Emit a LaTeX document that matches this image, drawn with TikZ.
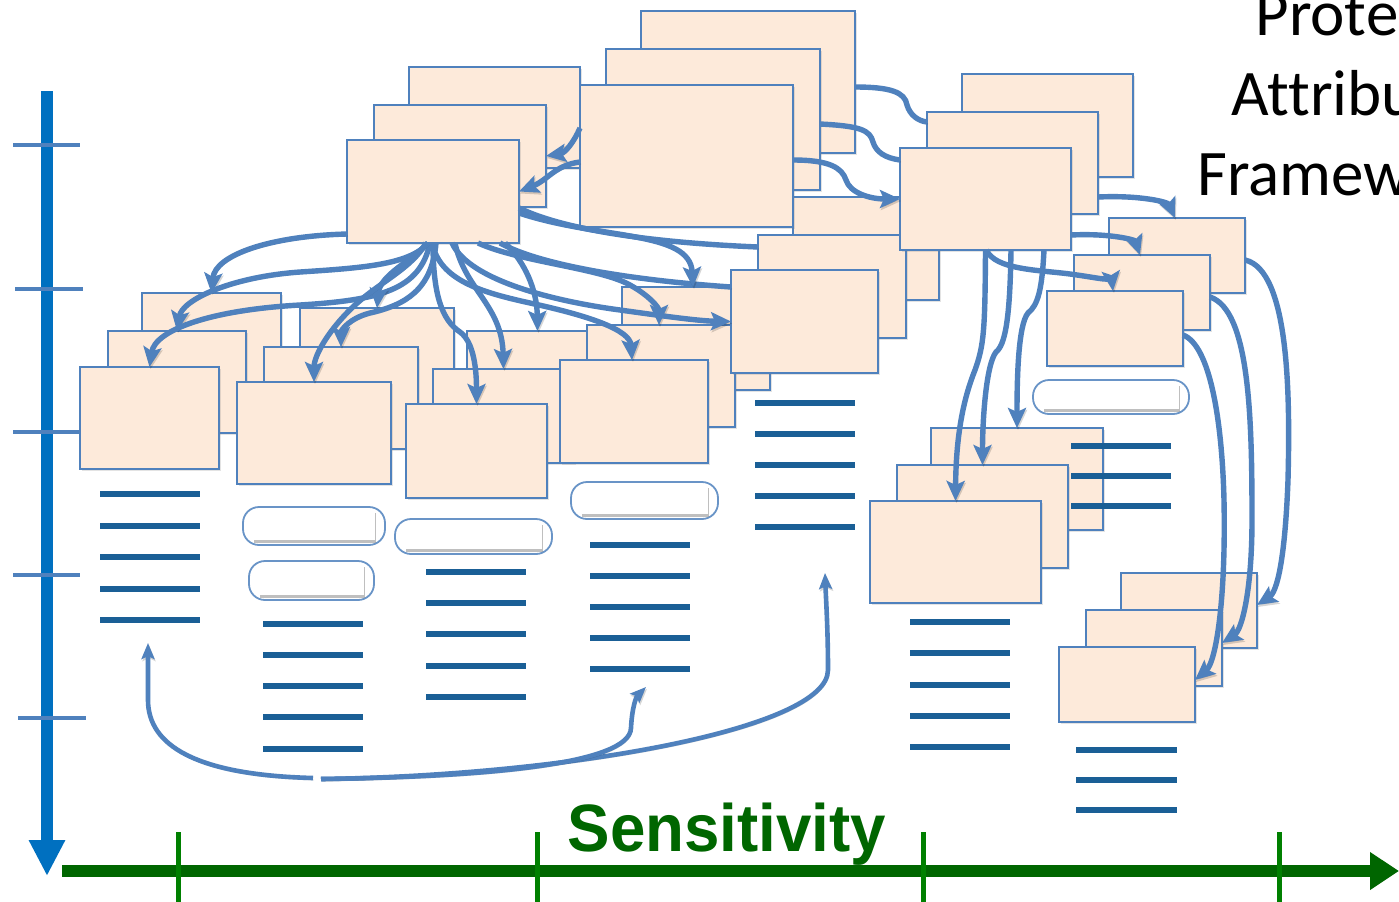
\documentclass[tikz,border=0pt]{standalone}
\usepackage{fontspec}
\usepackage{graphicx}
\usetikzlibrary{arrows.meta,calc,shadows}
\newfontfamily\axisfont{Liberation Sans}
\newfontfamily\headfont{Carlito}[Ligatures={NoCommon,NoRequired,NoContextual}]
\definecolor{cardfill}{HTML}{FDEADA}
\definecolor{cardline}{HTML}{4F81BD}
\definecolor{linkblue}{HTML}{4F81BD}
\definecolor{barblue}{HTML}{1A5F96}
\definecolor{vaxisblue}{HTML}{0070C0}
\definecolor{haxisgreen}{HTML}{006600}
\definecolor{htickgreen}{HTML}{008000}

\tikzset{
  card/.style={rectangle, draw=cardline, fill=cardfill, line width=1pt,
    inner sep=0pt, outer sep=0pt,
    drop shadow={shadow xshift=0.8pt, shadow yshift=-1.2pt, opacity=0.22}},
  linkshade/.style={preaction={draw=black, opacity=0.16,
    transform canvas={xshift=0.5pt, yshift=-1pt}}},
  link/.style={draw=linkblue, line width=2.7pt, linkshade,
    -{Stealth[length=10pt,width=9pt,inset=2pt]}},
  plainlink/.style={draw=linkblue, line width=2.7pt, linkshade},
  looplink/.style={draw=linkblue, line width=2.3pt, linkshade,
    -{Stealth[length=8pt,width=6.5pt,inset=1.5pt]}},
  bar/.style={draw=barblue, line width=3pt},
  pillbox/.style={rectangle, draw=cardline!85, line width=0.9pt, fill=white,
    rounded corners=8pt, inner sep=0pt, outer sep=0pt},
  vtick/.style={draw=linkblue, line width=2pt},
  htick/.style={draw=htickgreen, line width=2.5pt},
  headline/.style={anchor=base west, inner sep=0pt,
    font=\headfont\fontsize{32.5}{39}\selectfont},
}

% card: name, left, top, right, bottom (pixel grid, y downwards)
\newcommand\card[5]{\node[card, minimum width={(#4-#2)*0.5pt},
  minimum height={(#5-#3)*0.5pt}] (#1) at ({(#2+#4)/2},{(#3+#5)/2}) {};}
% pill: name, left, top, right, bottom
\newcommand\pill[5]{\node[pillbox, minimum width={(#4-#2)*0.5pt},
  minimum height={(#5-#3)*0.5pt}] (#1) at ({(#2+#4)/2},{(#3+#5)/2}) {};
  \fill[white, drop shadow={shadow xshift=0.5pt, shadow yshift=-1.4pt, opacity=0.5}]
    ($(#1.north west)+(10,3)$) rectangle ($(#1.south east)+(-10,-5)$);}
% bar list: left, right, list of heights
\newcommand\barlist[3]{\foreach \yy in {#3} {\draw[bar] (#1,\yy) -- (#2,\yy);}}

\begin{document}
\begin{tikzpicture}[x=0.5pt, y=-0.5pt]
\fill[white] (0,0) rectangle (1399,901);
\useasboundingbox (0,0) rectangle (1399,901);

% ---- lower left stacks, back to front
\card{G3}{142}{293}{281}{395}
\card{G2}{108}{331}{246}{433}
\card{G1}{80}{367}{219}{469}
\card{H3}{300}{308}{454}{410}
\card{H2}{264}{347}{418}{449}
\card{H1}{237}{382}{391}{484}
\card{J3}{467}{331}{608}{425}
\card{J2}{433}{369}{574}{463}
\card{J1}{406}{404}{547}{498}
\card{K3}{622}{287}{770}{390}
\card{K2}{587}{325}{735}{427}
\card{K1}{560}{360}{708}{463}
\card{L3}{793}{197}{939}{300}
\card{L2}{758}{235}{906}{338}
\card{L1}{731}{270}{878}{373}
% ---- upper stacks
\card{A3}{409}{67}{580}{168}
\card{A2}{374}{105}{546}{207}
\card{A1}{347}{140}{519}{243}
\card{B3}{641}{11}{855}{153}
\card{B2}{606}{49}{820}{190}
\card{B1}{580}{85}{793}{227}
\card{C3}{962}{74}{1133}{177}
\card{C2}{927}{112}{1098}{214}
\card{C1}{900}{148}{1071}{250}
% ---- right stacks
\card{D3}{1109}{218}{1245}{293}
\card{D2}{1074}{255}{1210}{330}
\card{D1}{1047}{291}{1183}{366}
\card{E3}{931}{428}{1103}{530}
\card{E2}{897}{465}{1068}{568}
\card{E1}{870}{501}{1041}{603}
\card{F3}{1121}{573}{1257}{648}
\card{F2}{1086}{610}{1222}{686}
\card{F1}{1059}{647}{1195}{722}

% ---- pills
\pill{PH1}{243}{507}{385}{545}
\pill{PH2}{249}{561}{374}{600}
\pill{PJ}{395}{519}{552}{554}
\pill{PK}{571}{482}{718}{519}
\pill{PD}{1033}{380}{1189}{414}

% ---- bar lists
\barlist{100}{200}{494,526,557,589,620}
\barlist{263}{363}{624,655,686,717,749}
\barlist{426}{526}{572,603,634,666,697}
\barlist{590}{690}{545,576,607,638,669}
\barlist{755}{855}{403,434,465,496,527}
\barlist{910}{1010}{622,653,685,716,747}
\barlist{1071}{1171}{446,476,506}
\barlist{1076}{1177}{750,780,810}

% ---- fan from A1
\draw[link] ($(A1.south west)+(0,-9)$) .. controls (270,236) and (215,255) .. (G3.north);
\draw[link] ($(A1.south)+(-5,0)$) .. controls (410,265) and (360,268) .. (300,272)
  .. controls (230,277) and (182,300) .. (G2.north);
\draw[link] ($(A1.south)+(-3,0)$) .. controls (420,290) and (380,300) .. (300,305)
  .. controls (210,310) and (155,330) .. (G1.north);
\draw[link] ($(A1.south)+(-5,0)$) .. controls (410,262) and (380,275) .. (H3.north);
\draw[link] ($(A1.south)+(3,0)$) .. controls (432,290) and (405,305) .. (370,313)
  .. controls (350,318) and (341,330) .. (H2.north);
\draw[link] ($(A1.south)+(-7,0)$) .. controls (412,268) and (380,282) .. (355,305)
  .. controls (330,328) and (314,355) .. (H1.north);
\draw[link] (A1.south) .. controls (433,295) and (442,320) .. (460,332)
  .. controls (474,342) and (476.5,370) .. (J1.north);
\draw[link] ($(A1.south)+(22,0)$) .. controls (465,290) and (502,305) .. (J2.north);
\draw[link] ($(A1.south)+(72,0)$) .. controls (525,262) and (537,290) .. (J3.north);
\draw[link] ($(A1.south)+(-1,0)$) .. controls (440,280) and (480,292) .. (530,303)
  .. controls (590,316) and (630,330) .. ($(K1.north)+(-2,0)$);
\draw[link] ($(A1.south)+(45,0)$) .. controls (520,262) and (600,268) .. (630,285)
  .. controls (650,296) and (659,308) .. ($(K2.north)+(-2,0)$);
\draw[link] ($(A1.south)+(19,0)$) .. controls (470,282) and (560,302) .. (620,310)
  .. controls (670,317) and (700,321) .. (L1.west);
\draw[plainlink] ($(A1.south)+(67,0)$) .. controls (540,265) and (630,280) .. ($(L1.north west)+(0,17)$);
\draw[plainlink] ($(A1.north east)+(0,68)$) .. controls (560,228) and (640,242) .. ($(L2.north west)+(0,12)$);
\draw[link] ($(A1.north east)+(0,73)$) .. controls (600,240) and (690,230) .. ($(K3.north)+(-3,0)$);

% ---- from the B stack
\draw[link] ($(B1.north west)+(0,43)$) .. controls (574,142) and (565,153) .. (A2.east);
\draw[link] ($(B1.west)+(0,6)$) .. controls (555,165) and (548,180) .. (A1.east);
\draw[plainlink] ($(B3.east)+(0,5)$) .. controls (890,87) and (905,92) .. (907,105)
  .. controls (910,115) and (918,121) .. ($(C2.north west)+(0,10)$);
\draw[plainlink] ($(B2.east)+(0,4.5)$) .. controls (860,126) and (870,130) .. (873,142)
  .. controls (876,152) and (885,158) .. ($(C1.north west)+(0,12)$);
\draw[link] ($(B1.east)+(0,4)$) .. controls (830,160) and (842,168) .. (846,180)
  .. controls (850,193) and (870,199) .. (C1.west);

% ---- from the C stack
\draw[link] ($(C2.south east)+(0,-17)$) .. controls (1140,195) and (1168,202) .. ($(D3.north)+(-2,0)$);
\draw[link] ($(C1.south east)+(0,-15)$) .. controls (1110,233) and (1135,240) .. ($(D2.north)+(-2,0)$);
\draw[link] ($(C1.south)+(1,0)$) .. controls (995,270) and (1040,270) .. (1070,274)
  .. controls (1100,278) and (1112,282) .. ($(D1.north)+(-2,0)$);
\draw[link] (C1.south) .. controls (985,330) and (984,345) .. (975,370)
  .. controls (965,395) and (956,430) .. (E1.north);
\draw[link] ($(C1.south)+(25.5,0)$) .. controls (1010,320) and (1005,345) .. (996,352)
  .. controls (986,365) and (982.5,420) .. (E2.north);
\draw[link] ($(C1.south)+(58.5,0)$) .. controls (1042,290) and (1038,305) .. (1028,313)
  .. controls (1018,325) and (1017,380) .. (E3.north);

% ---- from the D stack down to the F stack
\draw[link] ($(D3.east)+(0,4.5)$) .. controls (1290,270) and (1290,400) .. (1288,480)
  .. controls (1285,560) and (1277,592) .. ($(F3.east)+(0,-5.5)$);
\draw[link] ($(D2.east)+(0,4.5)$) .. controls (1250,310) and (1252,420) .. (1252,520)
  .. controls (1252,590) and (1242,630) .. ($(F2.east)+(0,-5)$);
\draw[link] ($(D1.east)+(0,6.5)$) .. controls (1210,345) and (1222,420) .. (1224,500)
  .. controls (1226,600) and (1216,662) .. ($(F1.east)+(0,-4.5)$);

% ---- loops along the bottom
\coordinate (lowA) at (313,778);
\coordinate (lowB) at (321,779);
\coordinate (gmark) at (148,643);
\coordinate (kmark) at (646,687);
\coordinate (lmark) at (825,573);
\draw[looplink] (lowA) .. controls (195,775) and (148,745) .. (148,700) -- (gmark);
\draw[looplink] (lowB) .. controls (560,776) and (828,730) .. (828,670)
  .. controls (828,630) and (826,600) .. (lmark);
\draw[looplink] (lowB) .. controls (480,777) and (630,765) .. (631,728)
  .. controls (632,708) and (636,697) .. (kmark);

% ---- vertical axis
\coordinate (vtop) at (47,91);
\coordinate (vend) at (47,876);
\draw[line width=6pt, vaxisblue, -{Triangle[length=18pt,width=17pt]}] (vtop) -- (vend);
\draw[vtick] (13,145) -- (80,145);
\draw[vtick] (15,289) -- (83,289);
\draw[vtick] (13,432) -- (80,432);
\draw[vtick] (13,575) -- (80,575);
\draw[vtick] (18,718) -- (86,718);

% ---- horizontal axis
\coordinate (hstart) at (62,871);
\coordinate (hend) at (1399,871);
\draw[line width=6pt, haxisgreen, -{Triangle[length=14.5pt,width=18pt]}] (hstart) -- (hend);
\foreach \xx in {178,537,923,1279} {\draw[htick] (\xx,832) -- (\xx,905);}

\node[anchor=base, inner sep=0pt, text=haxisgreen,
  font=\axisfont\bfseries\fontsize{33.5}{40}\selectfont] (sens) at (727,851)
  {\scalebox{0.95}[1]{Sensitivity}};

% ---- heading, running off the right edge
\node[headline] (head1) at (1255,35) {Prote};
\node[headline] (head2) at (1231,115) {Attribu};
\node[headline] (head3) at (1197,195) {Framew};
\end{tikzpicture}
\end{document}
